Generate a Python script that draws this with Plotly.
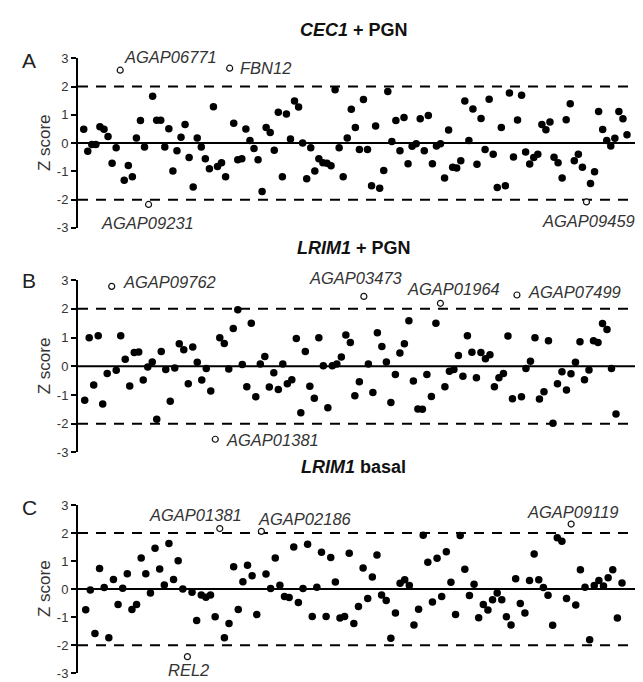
import plotly.graph_objects as go

# ---------------- data (Z scores, in gene order) ----------------
# Panel A: CEC1 + PGN
a_scores = [0.49, -0.29, -0.05, -0.05, 0.58, 0.49, 0.23, -0.71, -0.16, 2.58, -1.31, -0.79, -1.19, 0.18, 0.8,
            -0.14, -2.17, 1.66, 0.81, 0.81, -0.14, 0.51, -0.99, -0.27, 0.21, 0.66, -0.51, -1.55, 0.18, -0.14,
            -0.55, -0.91, 1.29, -0.83, -0.69, -1.19, 2.65, 0.7, -0.59, -0.55, 0.5, 0.09, -0.19, -0.59, -1.71,
            0.55, 0.38, -0.25, 1.09, -1.19, 1.03, 0.15, 1.49, 1.28, 0.0, -1.26, -0.16, -0.99, -0.55, -0.69,
            -0.71, -0.8, 1.89, -0.16, -1.19, 0.18, 1.2, 0.55, -0.23, 1.54, -0.23, -1.51, 0.61, -1.6, -0.97,
            1.83, 0.06, 0.8, -0.27, 0.91, -0.73, -0.11, -0.02, 0.86, -0.27, 0.98, -0.73, -0.1, -0.02, -1.23,
            0.46, -0.85, -0.88, -0.62, 1.49, 0.09, 1.21, -0.75, 0.87, -0.23, 1.55, -0.39, -1.57, 0.55, -1.51,
            1.77, -0.49, 0.82, 1.69, -0.31, -0.74, -0.51, -0.39, 0.66, 0.47, 0.75, -0.5, -0.69, -1.23, 0.83,
            1.39, -0.62, -0.39, -0.85, -2.08, -1.43, -1.01, 1.12, 0.48, 0.09, -0.1, 0.17, 1.12, 0.86, 0.3]
a_outliers = {9: "AGAP06771", 16: "AGAP09231", 36: "FBN12", 124: "AGAP09459"}

# Panel B: LRIM1 + PGN
b_scores = [-1.18, 0.99, -0.65, 1.06, -1.31, -0.25, 2.78, -0.14, 1.06, 0.24, -0.69, 0.48, 0.5, -0.48, -0.03,
            0.15, -1.84, 0.51, -0.11, -1.22, -0.06, 0.78, 0.57, -0.61, 0.67, 0.14, -0.48, -0.08, -0.86, -2.54,
            0.99, 0.79, -0.1, 1.31, 1.97, 0.06, -0.71, 1.5, -1.06, 0.08, 0.34,
            -0.72, -0.23, -0.81, 0.08, -0.61, -0.47, 0.97, -1.62, 0.51, -0.7, -1.11, 0.99, 0.02, -1.44, 0.02,
            0.08, 0.32, 1.09, 0.83, -1.03, -0.54, 2.43, 0.08, -0.91, 1.17, 0.69, 0.15, -1.26, -0.29, 0.46,
            0.78, 1.58, -0.51, -1.49, -1.5, -0.29, -1.05, 1.5, 2.19, -0.71, -0.17,
            -0.11, 0.37, -0.35, 1.06, 0.49, -0.4, 0.48, 0.26, 0.4, -0.71, -0.4, -0.25, 1.05, -1.13, 2.48,
            -1.06, -0.08, 0.17, 0.99, -1.14, -0.89, 0.89, -1.98, -0.61, -0.19, -0.83, -0.26, 0.14, 0.85,
            -0.47, -0.13, 0.89, 0.83, 1.49, 1.28, -0.08, -1.66]
b_outliers = {6: "AGAP09762", 29: "AGAP01381", 62: "AGAP03473", 79: "AGAP01964", 96: "AGAP07499"}

# Panel C: LRIM1 basal
c_scores = [-0.74, -0.03, -1.58, 0.73, 0.06, -1.74, 0.34, -0.55, 0.03, 0.55, -0.73, -0.55, 1.11, 0.55, -0.14,
            1.46, 0.72, 0.15, 1.63, 0.34, 1.01, 0.0, -2.41, -0.11, -1.12, -0.21, -0.29, -0.21, -0.99, 2.16,
            -1.74, -1.23, 0.8, -0.73, 0.26, 0.85, 0.48, -0.91, 2.06,
            0.54, 0.02, 1.11, 0.14, -0.26, -0.3, 1.5, -0.48, 0.02, 1.6, -0.98, 0.07, 1.31, -0.98, 1.13, 0.25,
            -1.03, -0.98, 1.28, -1.23, -0.62, 0.75, -0.34, 0.43, 1.22, -0.21, -0.41, -1.75, -0.85, 0.21, 0.33,
            0.13, -1.28, -0.72, 1.92, 0.96, -0.46, 1.1, -0.26, 1.33, 0.24, -0.91,
            1.91, 0.71, -0.23, 0.17, -1.02, -0.55, -0.75, -0.38, -0.14, -0.38, -0.99, -1.28, 0.37, -0.51,
            -0.85, 0.31, 1.25, 0.33, 0.06, -0.22, -1.29, 1.83, 1.71, -0.34, 2.32, -0.57, 0.69, 0.07, -1.81,
            0.13, 0.31, 0.11, 0.4, 0.69, -1.03, 0.22]
c_outliers = {22: "REL2", 29: "AGAP01381", 38: "AGAP02186", 105: "AGAP09119"}

panel_titles = ["<b><i>CEC1</i> + PGN</b>", "<b><i>LRIM1</i> + PGN</b>", "<b><i>LRIM1</i> basal</b>"]
panel_letters = ["A", "B", "C"]
ytick_vals = [-3, -2, -1, 0, 1, 2, 3]
ytick_text = ["-3", "-2", "-1", "0", "1", "2", "3"]

# ---------------- layout helpers ----------------
W, H = 643, 682
FONT = "Arial, Liberation Sans, sans-serif"
LEFT_PX, RIGHT_PX = 70, 640

# (y px of +3, y px of -3, first point px, last point px, title y px, letter y px)
panel_geom = [
    (44.3, 217.7, 75.7, 619.0, 15, 47),
    (271.0, 447.3, 76.7, 608.0, 238, 271),
    (501.0, 673.0, 77.7, 614.0, 462, 504),
]

# label placement relative to outlier point: (xanchor, xshift, yshift)
label_pos = [
    {9: ("left", 2, 13), 16: ("center", -1, -19), 36: ("left", 8, 0), 124: ("center", 2, -19)},
    {6: ("left", 9, 4), 29: ("left", 9, -1), 62: ("center", -8, 18), 79: ("center", 13, 14), 96: ("left", 9, 3)},
    {22: ("center", 1, -13), 29: ("center", -24, 14), 38: ("left", -5, 12), 105: ("center", 2, 12)},
]

panels = [(a_scores, a_outliers), (b_scores, b_outliers), (c_scores, c_outliers)]

fig = go.Figure()
annotations = []
shapes = []
layout_axes = {}

for p, (scores, outliers) in enumerate(panels):
    top_px, bot_px, first_px, last_px, title_px, letter_px = panel_geom[p]
    n = len(scores)
    step = (last_px - first_px) / (n - 1)
    xr = [-(first_px - LEFT_PX) / step, (n - 1) + (RIGHT_PX - last_px) / step]
    sfx = "" if p == 0 else str(p + 1)
    xa, ya = "x" + sfx, "y" + sfx

    fx = [i for i in range(n) if i not in outliers]
    fy = [scores[i] for i in fx]
    ox = [i for i in range(n) if i in outliers]
    oy = [scores[i] for i in ox]

    fig.add_trace(go.Scatter(x=fx, y=fy, mode="markers", xaxis=xa, yaxis=ya,
                             marker=dict(size=7.5, color="black", line=dict(width=0)),
                             showlegend=False, hoverinfo="skip"))
    fig.add_trace(go.Scatter(x=ox, y=oy, mode="markers", xaxis=xa, yaxis=ya,
                             marker=dict(size=6, color="white", line=dict(width=1.2, color="#111")),
                             showlegend=False, hoverinfo="skip"))

    layout_axes["xaxis" + sfx] = dict(domain=[LEFT_PX / W, RIGHT_PX / W], range=xr, visible=False,
                                      anchor=ya, fixedrange=True)
    layout_axes["yaxis" + sfx] = dict(domain=[1 - bot_px / H, 1 - top_px / H], range=[-3, 3],
                                      anchor=xa, tickvals=ytick_vals, ticktext=ytick_text,
                                      showline=True, linewidth=2, linecolor="black",
                                      ticks="outside", ticklen=5, tickwidth=2, tickcolor="black",
                                      showgrid=False, zeroline=False,
                                      tickfont=dict(family=FONT, size=13, color="#333"))

    for yv, dash in [(2, "10px,8px"), (-2, "10px,8px"), (0, "solid")]:
        shapes.append(dict(type="line", xref=xa + " domain", yref=ya, x0=0, x1=1, y0=yv, y1=yv,
                           line=dict(color="black", width=2, dash=dash), layer="below"))

    for idx, name in outliers.items():
        xanchor, xs, ys = label_pos[p][idx]
        annotations.append(dict(x=idx, y=scores[idx], xref=xa, yref=ya, text="<i>%s</i>" % name,
                                showarrow=False, xanchor=xanchor, yanchor="middle",
                                xshift=xs, yshift=ys,
                                font=dict(family=FONT, size=16.5, color="#333")))

    annotations.append(dict(x=346 / W, y=1 - title_px / H, xref="paper", yref="paper",
                            text=panel_titles[p], showarrow=False, xanchor="center", yanchor="middle",
                            font=dict(family=FONT, size=18, color="#111")))
    annotations.append(dict(x=12 / W, y=1 - letter_px / H, xref="paper", yref="paper",
                            text=panel_letters[p], showarrow=False, xanchor="left", yanchor="middle",
                            font=dict(family=FONT, size=21, color="#222")))
    mid_px = (top_px + bot_px) / 2
    annotations.append(dict(x=36 / W, y=1 - mid_px / H, xref="paper", yref="paper",
                            text="Z score", showarrow=False, textangle=-90,
                            xanchor="center", yanchor="middle",
                            font=dict(family=FONT, size=17, color="#333")))

fig.update_layout(width=W, height=H, margin=dict(l=0, r=0, t=0, b=0),
                  paper_bgcolor="white", plot_bgcolor="white",
                  annotations=annotations, shapes=shapes, **layout_axes)

fig.write_html("out.html")
